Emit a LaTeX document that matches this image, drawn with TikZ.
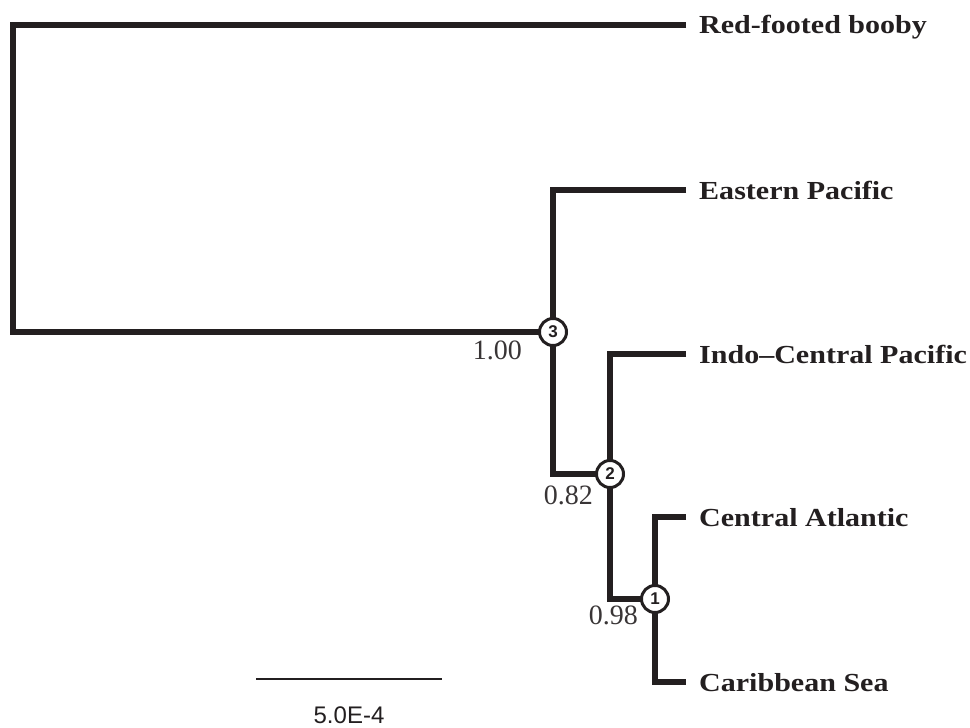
\documentclass[tikz,border=0pt]{standalone}
\usepackage{fontspec}
\usepackage{graphicx}
\setmainfont{Liberation Serif}
\setsansfont{Liberation Sans}
\definecolor{ink}{HTML}{231F20}
\begin{document}
\begin{tikzpicture}[x=1pt,y=-1pt,
  branch/.style={draw=ink,line width=6.5pt,line join=miter},
  nodecirc/.style={circle,draw=ink,line width=3pt,fill=white,minimum size=27pt,inner sep=0pt,
    text=ink,font=\sffamily\bfseries\fontsize{17}{17}\selectfont},
  taxon/.style={anchor=base west,inner sep=0pt,text=ink,font=\bfseries\fontsize{26}{30}\selectfont},
  support/.style={anchor=base east,inner sep=0pt,text=ink!90,font=\fontsize{28}{30}\selectfont},
  scalebar/.style={draw=ink,line width=2.5pt},
  scalelabel/.style={anchor=base,inner sep=0pt,text depth=0pt,text=ink,font=\sffamily\fontsize{24}{26}\selectfont}]
\useasboundingbox[fill=white] (0,0) rectangle (970,728);
% tips
\coordinate (tRFB) at (686,25);
\coordinate (tEP) at (686,190);
\coordinate (tICP) at (686,354);
\coordinate (tCA) at (686,517);
\coordinate (tCS) at (686,682);
% corners
\coordinate (rTop) at (13,25);
\coordinate (rBot) at (13,332);
\coordinate (n3top) at (553,190);
\coordinate (n3bot) at (553,474);
\coordinate (n2top) at (610,354);
\coordinate (n2bot) at (610,599);
\coordinate (n1top) at (655,517);
\coordinate (n1bot) at (655,682);
% internal nodes positions
\coordinate (p3) at (553,332);
\coordinate (p2) at (610,474);
\coordinate (p1) at (655,599);
% branches
\draw[branch] (tRFB) -- (rTop) -- (rBot) -- (p3);
\draw[branch] (tEP) -- (n3top) -- (n3bot) -- (p2);
\draw[branch] (tICP) -- (n2top) -- (n2bot) -- (p1);
\draw[branch] (tCA) -- (n1top) -- (n1bot) -- (tCS);
% node circles
\node[nodecirc] (n3) at (p3) {3};
\node[nodecirc] (n2) at (p2) {2};
\node[nodecirc] (n1) at (p1) {1};
% support values
\node[support] (s3) at (522,359) {1.00};
\node[support] (s2) at (593,504) {0.82};
\node[support] (s1) at (638,624) {0.98};
% taxa
\node[taxon] (lRFB) at (699,34) {\scalebox{1.155}[1]{Red-footed booby}};
\node[taxon] (lEP) at (699,199) {\scalebox{1.155}[1]{Eastern Pacific}};
\node[taxon] (lICP) at (699,363) {\scalebox{1.155}[1]{Indo--Central Pacific}};
\node[taxon] (lCA) at (699,526) {\scalebox{1.155}[1]{Central Atlantic}};
\node[taxon] (lCS) at (699,691) {\scalebox{1.155}[1]{Caribbean Sea}};
% scale bar
\coordinate (sb1) at (256,679);
\coordinate (sb2) at (442,679);
\draw[scalebar] (sb1) -- (sb2);
\node[scalelabel] (sbl) at (349,723) {5.0E-4};
\end{tikzpicture}
\end{document}
